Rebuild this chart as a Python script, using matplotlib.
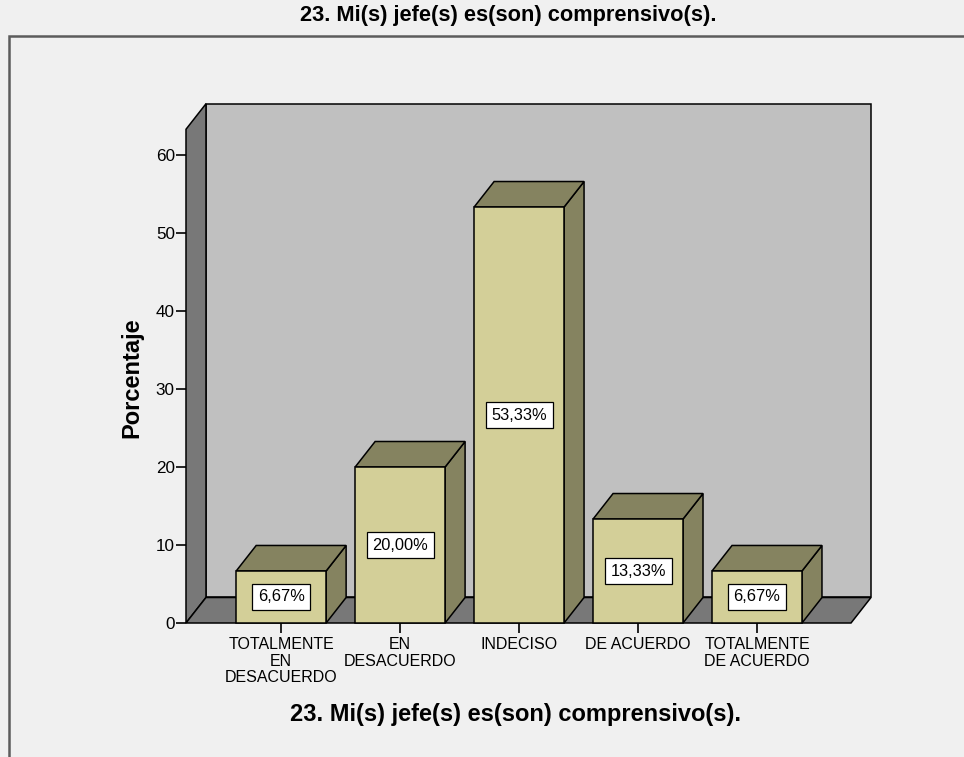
import matplotlib.pyplot as plt
from matplotlib.patches import Polygon, Rectangle

# ---------------------------------------------------------------------------
# Data
# ---------------------------------------------------------------------------
categorias = ['TOTALMENTE\nEN\nDESACUERDO', 'EN\nDESACUERDO', 'INDECISO',
              'DE ACUERDO', 'TOTALMENTE\nDE ACUERDO']
porcentajes = [6.67, 20.00, 53.33, 13.33, 6.67]
etiquetas = ['6,67%', '20,00%', '53,33%', '13,33%', '6,67%']
titulo = '23. Mi(s) jefe(s) es(son) comprensivo(s).'

# ---------------------------------------------------------------------------
# Figure / colours
# ---------------------------------------------------------------------------
W, H = 964, 757
fondo = '#f0f0f0'
pared = '#c0c0c0'
piso = '#787878'
frente = '#d3cf98'
lado = '#858360'

fig = plt.figure(figsize=(W / 100, H / 100), dpi=100, facecolor=fondo)
plt.rcParams['font.family'] = ['Liberation Sans', 'DejaVu Sans']

# outer frame of the chart area (runs off the right and bottom edges)
fig.patches.append(Rectangle((9 / W, -0.2), 2, 1.2 - 36 / H, transform=fig.transFigure,
                             facecolor=fondo, edgecolor='#5c5c5c', lw=1.8, zorder=-10))

# axes mapped so that y 0..60 and the five categories sit where the reference has them
ax = fig.add_axes([186 / W, (H - 623) / H, (851 - 186) / W, (623 - 155) / H])
ax.set_xlim(-0.8, 4.79)
ax.set_ylim(0, 60)
ax.patch.set_visible(False)
for s in ax.spines.values():
    s.set_visible(False)

x0, x1 = ax.get_xlim()
dx, dy = 0.168, 3.27          # depth offset of the pseudo-3D
tope = 63.3                   # height of the walls
bw = 0.756                    # bar width
lw = 1.1

# back wall, left wall, floor
ax.add_patch(Polygon([(x0 + dx, dy), (x1 + dx, dy), (x1 + dx, tope + dy), (x0 + dx, tope + dy)],
                     closed=True, facecolor=pared, edgecolor='black', lw=lw, clip_on=False, zorder=1))
ax.add_patch(Polygon([(x0, 0), (x0, tope), (x0 + dx, tope + dy), (x0 + dx, dy)],
                     closed=True, facecolor=piso, edgecolor='black', lw=lw, clip_on=False, zorder=2))
ax.add_patch(Polygon([(x0, 0), (x1, 0), (x1 + dx, dy), (x0 + dx, dy)],
                     closed=True, facecolor=piso, edgecolor='black', lw=lw, clip_on=False, zorder=2))

# bars
for i, v in enumerate(porcentajes):
    a, b = i - bw / 2, i + bw / 2
    ax.add_patch(Polygon([(b, 0), (b + dx, dy), (b + dx, v + dy), (b, v)], closed=True,
                         facecolor=lado, edgecolor='black', lw=lw, clip_on=False, zorder=3))
    ax.add_patch(Polygon([(a, v), (b, v), (b + dx, v + dy), (a + dx, v + dy)], closed=True,
                         facecolor=lado, edgecolor='black', lw=lw, clip_on=False, zorder=3))
    ax.add_patch(Polygon([(a, 0), (b, 0), (b, v), (a, v)], closed=True,
                         facecolor=frente, edgecolor='black', lw=lw, clip_on=False, zorder=4))
    ax.text(i, v / 2, etiquetas[i], ha='center', va='center', fontsize=11.8, zorder=5,
            bbox=dict(boxstyle='square,pad=0.35', facecolor='white', edgecolor='black', lw=0.9))

ax.set_yticks(range(0, 61, 10))
ax.set_xticks(range(len(categorias)))
ax.set_xticklabels(categorias, fontsize=11.5, linespacing=1.15)
ax.tick_params(axis='y', length=7, width=1.2, labelsize=12.3, pad=1, colors='black')
ax.tick_params(axis='x', length=7, width=1.2, pad=3)

fig.text(132 / W, 1 - 378 / H, 'Porcentaje', rotation=90, ha='center', va='center',
         fontsize=17, fontweight='bold')
fig.text(516 / W, 1 - 715 / H, titulo, ha='center', va='center', fontsize=17, fontweight='bold')
fig.text(508 / W, 1 - 16 / H, titulo, ha='center', va='center', fontsize=15.7, fontweight='bold')

fig.savefig('out.png', dpi=100, facecolor=fondo)
